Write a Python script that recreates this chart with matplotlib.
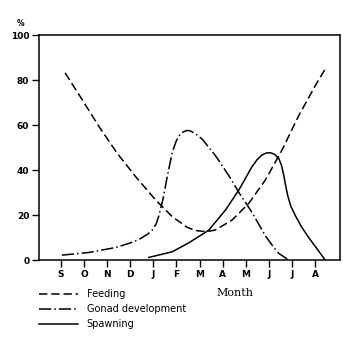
import matplotlib.pyplot as plt

months = ['S', 'O', 'N', 'D', 'J', 'F', 'M', 'A', 'M', 'J', 'J', 'A']

# values (x in month index, y in %)
feed_x = [0.18, 0.93, 1.65, 2.44, 3.24, 4.1, 4.82, 5.46, 5.8, 6.11, 6.4, 6.69,
          7.41, 8.13, 8.85, 9.57, 10.29, 11.01, 11.44]
feed_y = [83.2, 71.1, 59.3, 47.4, 37.0, 26.7, 19.3, 14.6, 13.2, 12.8, 12.8, 13.4,
          17.8, 25.2, 35.6, 48.9, 64.1, 77.5, 84.9]

gonad_x = [0.04, 1.22, 2.37, 3.0, 3.38, 3.75, 3.95, 4.12, 4.24, 4.41, 4.6, 4.82, 4.98,
           5.11, 5.3, 5.46, 5.6, 5.8, 6.11, 6.69, 7.27, 7.7, 8.27, 8.85, 9.2, 9.43, 9.86]
gonad_y = [2.2, 3.4, 5.6, 7.6, 9.2, 11.5, 13.3, 16.0, 19.7, 26.7, 37.0, 47.9, 52.6,
           55.2, 57.0, 57.6, 57.4, 56.3, 53.8, 46.4, 37.5, 30.1, 21.2, 10.8, 5.8, 3.0, 0.0]

spawn_x = [3.81, 4.82, 5.54, 6.4, 7.12, 7.7, 8.27, 8.5, 8.7, 8.9, 9.07, 9.25, 9.43, 9.55,
           9.64, 9.72, 9.82, 9.95, 10.15, 10.4, 10.72, 11.1, 11.44]
spawn_y = [1.2, 3.7, 7.7, 13.3, 22.2, 31.1, 41.5, 44.7, 46.7, 47.6, 47.7, 47.0, 45.2, 42.0,
           38.0, 33.5, 28.5, 24.0, 19.7, 15.0, 10.1, 4.8, 0.0]

fig = plt.figure(figsize=(3.48, 3.40), dpi=100)
ax = fig.add_axes([0.112, 0.235, 0.865, 0.662])

lw = 1.1
ax.plot(feed_x, feed_y, color='black', linewidth=lw, dashes=(5.5, 2.5), label='Feeding')
ax.plot(gonad_x, gonad_y, color='black', linewidth=lw, dashes=(8, 2, 1, 2),
        label='Gonad development')
ax.plot(spawn_x, spawn_y, color='black', linewidth=lw, label='Spawning')

ax.set_xlim(-0.95, 12.08)
ax.set_ylim(0, 100)
ax.set_xticks(range(len(months)))
ax.set_xticklabels(months)
ax.set_yticks([0, 20, 40, 60, 80, 100])
ax.tick_params(axis='both', labelsize=6.5, width=1, length=5, pad=2)
for lab in ax.get_xticklabels() + ax.get_yticklabels():
    lab.set_fontweight('bold')
for s in ax.spines.values():
    s.set_linewidth(1.1)

fig.text(0.058, 0.925, '%', fontsize=5.5, fontweight='bold', ha='center')
fig.text(0.675, 0.128, 'Month', fontsize=8, family='DejaVu Serif', ha='center')

ax.legend(loc='upper left', bbox_to_anchor=(0.0, -0.13), frameon=False,
          fontsize=7, handlelength=4.0, handletextpad=0.9, labelspacing=0.5,
          borderaxespad=0, borderpad=0)

fig.savefig('out.png', dpi=100)
